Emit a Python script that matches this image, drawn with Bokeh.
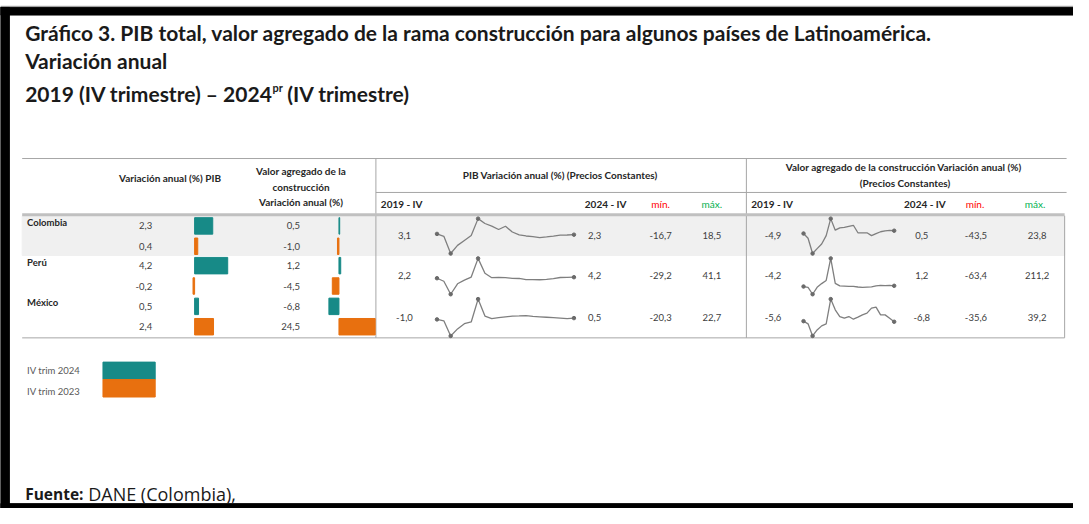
from bokeh.plotting import figure
from bokeh.models import Range1d
from bokeh.embed import file_html
from bokeh.resources import INLINE
from bokeh.core.properties import value

# ---------------- data ----------------
countries = ["Colombia", "Perú", "México"]
pib_iv2024 = [2.3, 4.2, 0.5]
pib_iv2023 = [0.4, -0.2, 2.4]
cons_iv2024 = [0.5, 1.2, -6.8]
cons_iv2023 = [-1.0, -4.5, 24.5]

pib_first = [3.1, 2.2, -1.0]
pib_last = [2.3, 4.2, 0.5]
pib_min = [-16.7, -29.2, -20.3]
pib_max = [18.5, 41.1, 22.7]
cons_first = [-4.9, -4.2, -5.6]
cons_last = [0.5, 1.2, -6.8]
cons_min = [-43.5, -63.4, -35.6]
cons_max = [23.8, 211.2, 39.2]

quarters = ["2019-IV",
            "2020-I", "2020-II", "2020-III", "2020-IV",
            "2021-I", "2021-II", "2021-III", "2021-IV",
            "2022-I", "2022-II", "2022-III", "2022-IV",
            "2023-I", "2023-II", "2023-III", "2023-IV",
            "2024-I", "2024-II", "2024-III", "2024-IV"]

pib_col = [3.1, 0.7, -16.7, -8.5, -3.5, 1.5, 18.5, 13.6, 11.0, 7.5, 10.8,
           5.0, 2.1, 1.0, 0.4, -0.6, 0.0, 0.8, 1.9, 2.0, 2.3]
pib_per = [2.2, -3.7, -29.2, -8.7, -1.5, 4.5, 41.1, 11.9, 3.2, 3.8, 3.5,
           1.9, 1.7, -0.4, -0.5, -0.8, -0.2, 1.4, 3.6, 3.8, 4.2]
pib_mex = [-1.0, -2.6, -20.3, -12.1, -6.0, -4.0, 22.7, 2.9, 0.0, 1.0, 2.0,
           2.9, 3.0, 3.5, 2.5, 2.0, 1.5, 1.0, 0.5, 0.0, 0.5]
cons_col = [-4.9, -14.0, -43.5, -34.0, -25.0, -9.0, 23.8, 1.5, 6.0, 7.0, 9.0,
            11.0, -3.5, -3.5, -3.5, -9.0, -5.0, -1.5, 0.0, 1.0, 0.5]
cons_per = [-4.2, -11.0, -63.4, -10.0, 18.0, 42.0, 211.2, 20.0, 0.5, -1.0, -3.0,
            -2.5, -8.0, -11.0, -9.0, -7.0, 0.5, 4.0, 3.0, 5.0, 1.2]
cons_mex = [-5.6, -11.0, -35.6, -23.4, -15.2, -11.0, 39.2, 17.4, 3.8, 0.4, 3.8,
            -1.6, 2.5, 7.2, 10.6, 20.8, 22.9, 7.2, 7.2, 0.4, -6.8]

pib_series = [pib_col, pib_per, pib_mex]
cons_series = [cons_col, cons_per, cons_mex]

legend_labels = ["IV trim 2024", "IV trim 2023"]

TEAL = "#178a87"
ORANGE = "#e8700f"

# ---------------- layout (reference page coordinates 1089 x 524) ----------------
W, H = 1073, 508
RX0, RX1, RY0, RY1 = 0, 1089, 0, 524

p = figure(width=W, height=H, output_backend="svg", toolbar_location=None,
           x_axis_type=None, y_axis_type=None,
           x_range=Range1d(RX0, RX1), y_range=Range1d(RY1, RY0),
           min_border=0, border_fill_color="white",
           background_fill_color="white", outline_line_color=None)
p.grid.visible = False


def lin_range(v0, v1, p0, p1, f0, f1):
    k = (p1 - p0) / (v1 - v0)
    return Range1d(v0 + (f0 - p0) / k, v0 + (f1 - p0) / k)


def fmt(v):
    return f"{v:.1f}".replace(".", ",")


FONT = "Lato"


def txt(x, y, s, size, color="#404040", bold=False, align="left",
        font=FONT, italic=False):
    style = "bold" if bold else "normal"
    if italic:
        style = "bold italic" if bold else "italic"
    p.text(x=[x], y=[y], text=[s], text_font=value(font),
           text_font_size=f"{size}px", text_font_style=style,
           text_color=color, text_align=align, text_baseline="middle")


# document frame (black borders)
p.quad(left=[0, 0, 0], right=[1089, 9, 1089], top=[7, 7, 519],
       bottom=[15, 524, 524], color="black")
p.segment(x0=[0], y0=[6], x1=[1089], y1=[6], line_color="#9a9a9a", line_width=1)

# ---------------- title ----------------
TC = "#1a1a1a"
TS = 21
txt(25, 33, "Gráfico 3. PIB total, valor agregado de la rama construcción para algunos países de Latinoamérica.", TS, TC, True)
txt(25, 62, "Variación anual", TS, TC, True)
txt(25, 96, "2019 (IV trimestre) – 2024", TS, TC, True)
txt(276, 90, "pr", 11, TC, True)
txt(291, 96, "(IV trimestre)", TS, TC, True)

# ---------------- table structure ----------------
group_top = [222, 263, 305]
group_bot = [263, 305, 348]
LINE = "#a6a6a6"

p.quad(left=[22], right=[1080], top=[group_top[0]], bottom=[group_bot[0]],
       color="#f0f0f0")
p.segment(x0=[22, 381, 22], y0=[163, 198, 348], x1=[1082, 1082, 1080],
          y1=[163, 198, 348], line_color=LINE, line_width=1)
p.segment(x0=[381, 757, 1080], y0=[163, 163, 222], x1=[381, 757, 1080],
          y1=[348, 348, 348], line_color=LINE, line_width=1)
p.segment(x0=[22], y0=[221], x1=[1080], y1=[221], line_color="#c0c0c0",
          line_width=3)

# headers
HC = "#262626"
HS = 10
txt(172, 183, "Variación anual (%) PIB", HS, HC, True, "center")
txt(305, 176, "Valor agregado de la", HS, HC, True, "center")
txt(305, 192, "construcción", HS, HC, True, "center")
txt(305, 208, "Variación anual (%)", HS, HC, True, "center")
txt(568, 180, "PIB Variación anual (%) (Precios Constantes)", HS, HC, True, "center")
txt(918, 172, "Valor agregado de la construcción  Variación anual (%)", HS, HC, True, "center")
txt(918, 188, "(Precios Constantes)", HS, HC, True, "center")
for x0, x1, xmin, xmax in [(386, 593, 670, 722), (762, 917, 989, 1050)]:
    txt(x0, 210, "2019 - IV", HS, HC, True)
    txt(x1, 210, "2024 - IV", HS, HC, True)
    txt(xmin, 210, "mín.", HS, "#ff0000", False, "center")
    txt(xmax, 210, "máx.", HS, "#00b050", False, "center")

# ---------------- bars ----------------
p.extra_x_ranges = {
    "pibbar": lin_range(0, 1, 197, 205, RX0, RX1),
    "consbar": lin_range(0, 1, 343.5, 345, RX0, RX1),
    "spk_pib": lin_range(0, len(quarters) - 1, 443, 582, RX0, RX1),
    "spk_cons": lin_range(0, len(quarters) - 1, 815, 907, RX0, RX1),
}

VS = 9.5
VC = "#404040"
y_a = [t + 10.5 for t in group_top]
y_b = [t + 31.5 for t in group_top]
for i, c in enumerate(countries):
    txt(27, group_top[i] + 7, c, VS, HC, True)
    txt(154, y_a[i], fmt(pib_iv2024[i]), VS, VC, False, "right")
    txt(154, y_b[i], fmt(pib_iv2023[i]), VS, VC, False, "right")
    txt(304, y_a[i], fmt(cons_iv2024[i]), VS, VC, False, "right")
    txt(304, y_b[i], fmt(cons_iv2023[i]), VS, VC, False, "right")

BH = 17
p.hbar(y=y_a, left=0, right=pib_iv2024, height=BH, color=TEAL, x_range_name="pibbar")
p.hbar(y=y_b, left=0, right=pib_iv2023, height=BH, color=ORANGE, x_range_name="pibbar")
p.hbar(y=y_a, left=0, right=cons_iv2024, height=BH, color=TEAL, x_range_name="consbar")
p.hbar(y=y_b, left=0, right=cons_iv2023, height=BH, color=ORANGE, x_range_name="consbar")

# ---------------- sparklines ----------------
idx = list(range(len(quarters)))
SPK = "#7f7f7f"
for i in range(3):
    yc = (group_top[i] + group_bot[i]) / 2
    ytop = group_top[i] + 3
    ybot = group_bot[i] - 2
    for name, ser, xr, first, last, mn, mx, xs in [
        ("pib", pib_series[i], "spk_pib", pib_first, pib_last, pib_min, pib_max,
         (410, 603, 670, 722)),
        ("cons", cons_series[i], "spk_cons", cons_first, cons_last, cons_min, cons_max,
         (784, 935, 990, 1052)),
    ]:
        rn = f"{name}_{i}"
        p.extra_y_ranges[rn] = lin_range(min(ser), max(ser), ybot, ytop, RY1, RY0)
        p.line(idx, ser, line_color=SPK, line_width=1.3, x_range_name=xr, y_range_name=rn)
        imn = ser.index(min(ser))
        imx = ser.index(max(ser))
        pts = [0, imn, imx, len(ser) - 1]
        p.scatter([idx[j] for j in pts], [ser[j] for j in pts], size=3.5,
                  color="#6a6a6a", x_range_name=xr, y_range_name=rn)
        txt(xs[0], yc, fmt(first[i]), VS, VC, False, "center")
        txt(xs[1], yc, fmt(last[i]), VS, VC, False, "center")
        txt(xs[2], yc, fmt(mn[i]), VS, VC, False, "center")
        txt(xs[3], yc, fmt(mx[i]), VS, VC, False, "center")

# ---------------- legend ----------------
p.quad(left=[104, 104], right=[157, 157], top=[373, 391], bottom=[391, 409],
       color=[TEAL, ORANGE])
txt(27, 382, legend_labels[0], 9.5, "#595959")
txt(27, 403, legend_labels[1], 9.5, "#595959")

# ---------------- footer ----------------
txt(25, 509, "Fuente:", 15.5, "#1a1a1a", True, font="Open Sans")
txt(89, 509, "DANE (Colombia),", 18, "#1a1a1a", False, font="Open Sans")

open("out.html", "w").write(file_html(p, INLINE))
